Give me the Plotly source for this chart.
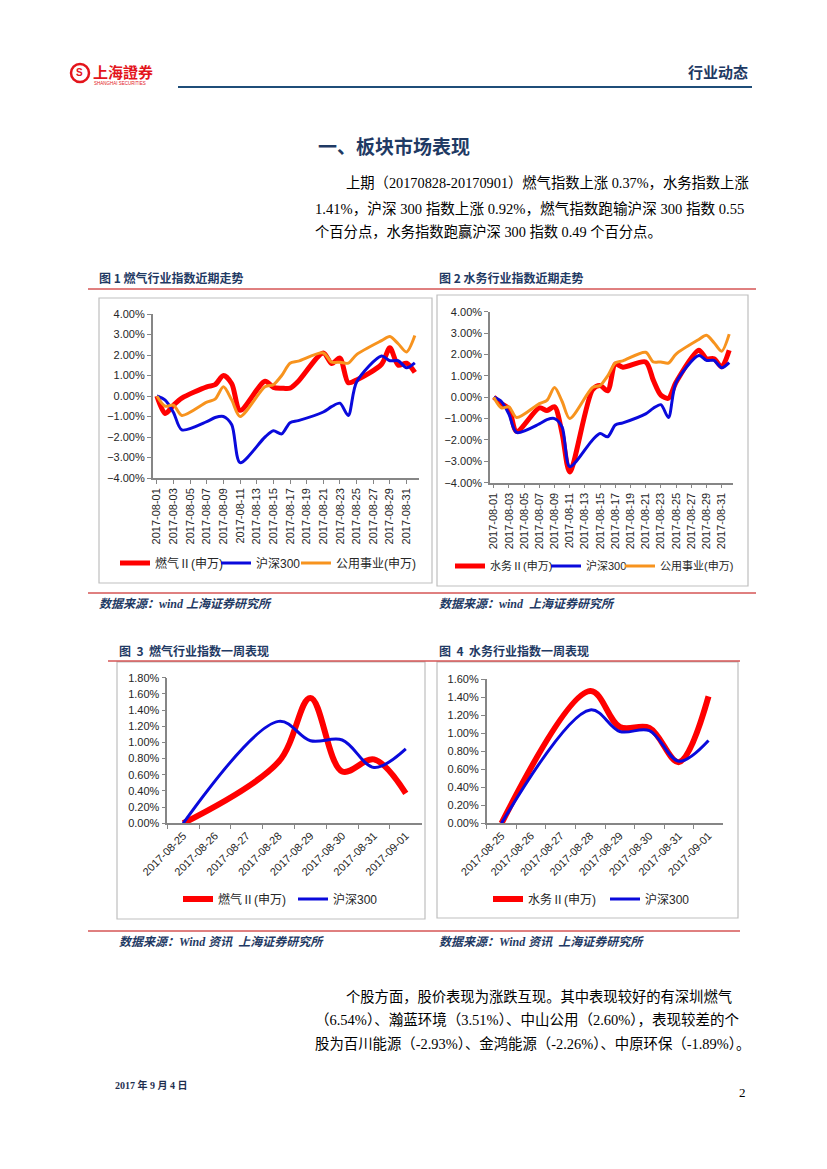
import plotly.graph_objects as go

# ---------------- data ----------------
trade_days = ["2017-08-01", "2017-08-02", "2017-08-03", "2017-08-04", "2017-08-07", "2017-08-08",
              "2017-08-09", "2017-08-10", "2017-08-11", "2017-08-14", "2017-08-15", "2017-08-16",
              "2017-08-17", "2017-08-18", "2017-08-21", "2017-08-22", "2017-08-23", "2017-08-24",
              "2017-08-25", "2017-08-28", "2017-08-29", "2017-08-30", "2017-08-31", "2017-09-01"]
gas_month = [0, -0.85, -0.45, -0.1, 0.45, 0.55, 1.0, 0.6, -0.7, 0.72, 0.42, 0.38, 0.38, 0.72,
             2.1, 1.58, 1.85, 0.65, 0.78, 1.55, 2.35, 1.5, 1.6, 1.15]
water_month = [0, -0.3, -0.55, -1.6, -0.5, -0.62, -0.45, -1.7, -3.5, 0.35, 0.55, 0.3, 1.55, 1.4,
               1.65, 0.8, 0.1, -0.05, 0.7, 2.2, 1.8, 1.8, 1.42, 2.2]
hs300_month = [0, -0.2, -0.8, -1.65, -1.25, -1.05, -1.0, -1.4, -3.25, -2.0, -1.7, -1.85, -1.3,
               -1.2, -0.78, -0.52, -0.35, -0.95, 0.68, 1.95, 1.72, 1.72, 1.38, 1.62]
util_month = [0, -0.5, -0.45, -0.95, -0.3, -0.15, 0.45, -0.2, -1.0, 0.45, 0.55, 1.0, 1.6, 1.7,
              2.1, 1.65, 1.65, 1.6, 2.02, 2.7, 2.9, 2.55, 2.15, 2.95]

week_days = ["2017-08-25", "2017-08-26", "2017-08-27", "2017-08-28", "2017-08-29", "2017-08-30",
             "2017-08-31", "2017-09-01"]
gas_week = [0, None, None, 0.76, 1.55, 0.64, 0.79, 0.37]
water_week = [0, None, None, 1.47, 1.07, 1.06, 0.68, 1.41]
hs300_week = [0, None, None, 1.26, 1.02, 1.03, 0.69, 0.92]

name_gas = "燃气Ⅱ(申万)"
name_water = "水务Ⅱ(申万)"
name_hs = "沪深300"
name_util = "公用事业(申万)"

# ---------------- helpers ----------------
W, H = 827, 1169
def px(x):
    return x / W
def py(y):
    return 1 - y / H

RED = "#FF0000"
BLUE = "#0A0ADC"
ORANGE = "#F7931E"
NAVY = "#1F3A64"
SANS = "Liberation Sans, Noto Sans CJK SC, sans-serif"
CJK = "Noto Sans CJK SC, sans-serif"
SERIF = "Liberation Serif, Noto Sans CJK SC, serif"

fig = go.Figure()
legends = {}
leg_count = [0]

def add_line(x, y, name, color, width, xa, ya, leg_x, leg_y, leg_size, smoothing, gaps=False):
    leg_count[0] += 1
    key = "legend" if leg_count[0] == 1 else "legend%d" % leg_count[0]
    legends[key] = dict(orientation="h", x=px(leg_x), y=py(leg_y), xanchor="left",
                        yanchor="middle", bgcolor="rgba(0,0,0,0)", itemwidth=30,
                        font=dict(family=SANS, size=leg_size, color="#262626"))
    fig.add_trace(go.Scatter(x=x, y=y, name=name, mode="lines", connectgaps=gaps,
                             line=dict(color=color, width=width, shape="spline",
                                       smoothing=smoothing),
                             xaxis=xa, yaxis=ya, legend=key, showlegend=True))

# chart 1
add_line(trade_days, gas_month, name_gas, RED, 5, "x", "y", 115, 563, 12, 0.8)
add_line(trade_days, hs300_month, name_hs, BLUE, 3, "x", "y", 216, 563, 12, 0.8)
add_line(trade_days, util_month, name_util, ORANGE, 3, "x", "y", 296, 563, 12, 0.8)
# chart 2
add_line(trade_days, water_month, name_water, RED, 5, "x2", "y2", 450, 566, 11, 0.8)
add_line(trade_days, hs300_month, name_hs, BLUE, 3, "x2", "y2", 546, 566, 11, 0.8)
add_line(trade_days, util_month, name_util, ORANGE, 3, "x2", "y2", 620, 566, 11, 0.8)
# chart 3
add_line(week_days, gas_week, name_gas, RED, 6, "x3", "y3", 178, 899, 12, 1.0, True)
add_line(week_days, hs300_week, name_hs, BLUE, 3, "x3", "y3", 293, 899, 12, 1.0, True)
# chart 4
add_line(week_days, water_week, name_water, RED, 6, "x4", "y4", 488, 899, 12, 1.0, True)
add_line(week_days, hs300_week, name_hs, BLUE, 3, "x4", "y4", 605, 899, 12, 1.0, True)

AX = "#868686"
tickfont = dict(family=SANS, size=11, color="#262626")

def date_xaxis(x0, x1, y_anchor):
    return dict(domain=[px(x0), px(x1)], anchor=y_anchor, type="date", automargin=False,
                range=["2017-07-31 12:00", "2017-09-01 12:00"],
                tick0="2017-08-01", dtick=2 * 86400000, tickformat="%Y-%m-%d",
                tickangle=-90, showgrid=False, zeroline=False, showline=True,
                linecolor=AX, linewidth=1.5, ticks="outside", ticklen=4, tickcolor=AX,
                tickfont=tickfont)

def pct_yaxis(y_top, y_bot, x_anchor, rng, dtick):
    return dict(domain=[py(y_bot), py(y_top)], anchor=x_anchor, range=rng, dtick=dtick,
                automargin=False,
                tickformat=".2f", ticksuffix="%", showgrid=False, zeroline=False,
                showline=True, linecolor=AX, linewidth=1.5, ticks="outside", ticklen=4,
                tickcolor=AX, tickfont=tickfont)

def cat_xaxis(x0, x1, y_anchor):
    return dict(domain=[px(x0), px(x1)], anchor=y_anchor, type="category", automargin=False,
                range=[-0.5, 7.5], tickangle=-45, tickson="boundaries", showgrid=False,
                zeroline=False, showline=True, linecolor=AX, linewidth=1.5, ticks="outside",
                ticklen=4, tickcolor=AX, tickfont=tickfont)

layout = dict(
    width=W, height=H, margin=dict(l=0, r=0, t=0, b=0, pad=0, autoexpand=False),
    autosize=False,
    paper_bgcolor="white", plot_bgcolor="white", showlegend=True,
    xaxis=date_xaxis(152.7, 419, "y"),
    yaxis=pct_yaxis(314, 478, "x", [-4, 4], 1),
    xaxis2=date_xaxis(490, 733, "y2"),
    yaxis2=pct_yaxis(311.7, 482.7, "x2", [-4, 4], 1),
    xaxis3=cat_xaxis(167.3, 421.7, "y3"),
    yaxis3=pct_yaxis(677.7, 823.3, "x3", [0, 1.8], 0.2),
    xaxis4=cat_xaxis(486.7, 723.3, "y4"),
    yaxis4=pct_yaxis(679.3, 823.3, "x4", [0, 1.6], 0.2),
)
layout.update(legends)
fig.update_layout(**layout)

shapes = []
def hline(x0, x1, y, color, width):
    shapes.append(dict(type="line", xref="paper", yref="paper", x0=px(x0), x1=px(x1),
                       y0=py(y), y1=py(y), line=dict(color=color, width=width)))
def box(x0, y0, x1, y1):
    shapes.append(dict(type="rect", xref="paper", yref="paper", x0=px(x0), x1=px(x1),
                       y0=py(y1), y1=py(y0), line=dict(color="#BFBFBF", width=1.2),
                       fillcolor="rgba(0,0,0,0)", layer="below"))

# header
hline(178, 752, 87, "#1F4E79", 2.2)
shapes.append(dict(type="circle", xref="paper", yref="paper", x0=px(71), x1=px(89),
                   y0=py(82), y1=py(64), line=dict(color="#E3141B", width=2.5)))
# red separators
hline(88, 756, 289, "#C00000", 1)
hline(88, 756, 593, "#C00000", 1)
hline(108, 740, 661, "#C00000", 1)
hline(88, 740, 931, "#C00000", 1)
# chart boxes
box(99, 298, 432, 583)
box(437, 295, 748, 586)
box(117, 662, 425, 919)
box(437, 662, 738, 918)
fig.update_layout(shapes=shapes)

ann = []
def text(x, y, s, size, color="#000", family=CJK, xanchor="left", yanchor="middle"):
    ann.append(dict(x=px(x), y=py(y), xref="paper", yref="paper", text=s, showarrow=False,
                    xanchor=xanchor, yanchor=yanchor,
                    font=dict(family=family, size=size, color=color)))

# logo and header
text(79.5, 72.5, "<b>S</b>", 10, "#E3141B", SANS, "center")
text(91, 71, "<b>上海證券</b>", 15, "#E3141B", "Noto Sans CJK TC, sans-serif")
text(92, 83, "SHANGHAI SECURITIES", 4.5, "#E3141B", SANS)
text(750, 71, "<b>行业动态</b>", 15, NAVY, CJK, "right")

# section title and paragraph
text(394, 145, "<b>一、板块市场表现</b>", 19, NAVY, CJK, "center")
text(344, 183, "上期（20170828-20170901）燃气指数上涨 0.37%，水务指数上涨", 14.3, "#000", SERIF)
text(313, 208, "1.41%，沪深 300 指数上涨 0.92%，燃气指数跑输沪深 300 指数 0.55", 14.6, "#000", SERIF)
text(313, 232, "个百分点，水务指数跑赢沪深 300 指数 0.49 个百分点。", 14.3, "#000", SERIF)

# captions
text(97, 278, "<b>图 1 燃气行业指数近期走势</b>", 12, NAVY)
text(437, 278, "<b>图 2 水务行业指数近期走势</b>", 12, NAVY)
text(97, 604, "<b><i>数据来源：wind 上海证券研究所</i></b>", 12, NAVY, SERIF)
text(437, 604, "<b><i>数据来源：wind  上海证券研究所</i></b>", 12, NAVY, SERIF)
text(117, 650, "<b>图  3  燃气行业指数一周表现</b>", 12, NAVY)
text(437, 650, "<b>图  4  水务行业指数一周表现</b>", 12, NAVY)
text(117, 942, "<b><i>数据来源：Wind 资讯  上海证券研究所</i></b>", 12, NAVY, SERIF)
text(437, 942, "<b><i>数据来源：Wind 资讯  上海证券研究所</i></b>", 12, NAVY, SERIF)

# bottom paragraph
text(344, 996, "个股方面，股价表现为涨跌互现。其中表现较好的有深圳燃气", 14.3, "#000", SERIF)
text(313, 1020, "（6.54%）、瀚蓝环境（3.51%）、中山公用（2.60%），表现较差的个", 14.5, "#000", SERIF)
text(313, 1044, "股为百川能源（-2.93%）、金鸿能源（-2.26%）、中原环保（-1.89%）。", 14.4, "#000", SERIF)

# footer
text(113, 1085, "<b>2017 年 9 月 4 日</b>", 10, "#1F2F4F", SERIF)
text(748, 1092, "2", 13, "#000", SERIF, "right")

fig.update_layout(annotations=ann)
fig.write_html("out.html", config={"displayModeBar": False},
               post_script="document.body.style.margin='0';document.body.style.padding='0';")
